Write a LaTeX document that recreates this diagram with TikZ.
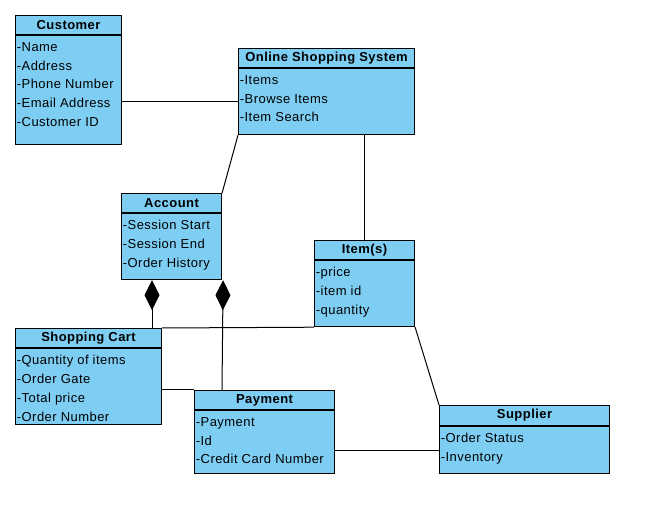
\documentclass[tikz,border=0pt]{standalone}
\usepackage{tikz, xcolor}
\usepackage{fontspec}
\setmainfont{Liberation Sans}[LetterSpace=3.5]
\usetikzlibrary{shapes,arrows,arrows.meta}
\definecolor{boxblue}{RGB}{126,206,244}

\begin{document}
\begin{tikzpicture}[x=1pt, y=-1pt, thick]
\tikzstyle{titler}=[rectangle, draw=black, fill=boxblue, line width=1.1pt, inner sep=0pt, anchor=north west, font=\fontsize{13}{15}\selectfont\bfseries]
\tikzstyle{bodyr}=[rectangle, draw=black, fill=boxblue, line width=1.1pt, inner sep=0pt, anchor=north west]
\tikzstyle{attrt}=[anchor=north west, align=left, inner sep=0pt, font=\fontsize{13}{18.75}\selectfont]
\tikzstyle{drawstyle}=[line width=1pt]
\tikzstyle{compstyle}=[line width=1pt, -{Diamond[length=30pt, width=15pt]}]

\useasboundingbox[fill=white] (0,0) rectangle (657,505);

\node[titler, minimum width=106, minimum height=19] (CustT) at (15,15) {Customer};
\node[bodyr, minimum width=106, minimum height=109] (Cust) at (CustT.south west) {};
\node[attrt] at ([shift={(1.5,7)}]Cust.north west) {-Name\\-Address\\-Phone Number\\-Email Address\\-Customer ID};

\node[titler, minimum width=176, minimum height=19] (OSST) at (238,48) {Online Shopping System};
\node[bodyr, minimum width=176, minimum height=66] (OSS) at (OSST.south west) {};
\node[attrt] at ([shift={(1.5,7)}]OSS.north west) {-Items\\-Browse Items\\-Item Search};

\node[titler, minimum width=100, minimum height=19] (AcctT) at (121,193) {Account};
\node[bodyr, minimum width=100, minimum height=66] (Acct) at (AcctT.south west) {};
\node[attrt] at ([shift={(1.5,7)}]Acct.north west) {-Session Start\\-Session End\\-Order History};

\node[titler, minimum width=100, minimum height=19] (ItemT) at (314,240) {Item(s)};
\node[bodyr, minimum width=100, minimum height=66] (Item) at (ItemT.south west) {};
\node[attrt] at ([shift={(1.5,7)}]Item.north west) {-price\\-item id\\-quantity};

\node[titler, minimum width=146, minimum height=19] (CartT) at (15,328) {Shopping Cart};
\node[bodyr, minimum width=146, minimum height=76] (Cart) at (CartT.south west) {};
\node[attrt] at ([shift={(1.5,7)}]Cart.north west) {-Quantity of items\\-Order Gate\\-Total price\\-Order Number};

\node[titler, minimum width=140, minimum height=19] (PayT) at (194,390) {Payment};
\node[bodyr, minimum width=140, minimum height=63] (Pay) at (PayT.south west) {};
\node[attrt] at ([shift={(1.5,7)}]Pay.north west) {-Payment\\-Id\\-Credit Card Number};

\node[titler, minimum width=170, minimum height=20] (SupT) at (439,405) {Supplier};
\node[bodyr, minimum width=170, minimum height=47] (Sup) at (SupT.south west) {};
\node[attrt] at ([shift={(1.5,7)}]Sup.north west) {-Order Status\\-Inventory};

\draw[drawstyle] (Cust.east |- OSS.west) -- (OSS.west);
\draw[drawstyle] (OSS.south west) -- (AcctT.north east);
\draw[drawstyle] (OSS.south -| ItemT.north) -- (ItemT.north);
\draw[compstyle] ([xshift=137pt]CartT.north west) -- ([xshift=31pt]Acct.south west);
\draw[compstyle] ([xshift=28pt]PayT.north west) -- ([xshift=1pt]Acct.south east);
\draw[drawstyle] (CartT.north east) -- (Item.south west);
\draw[drawstyle] (Cart.east |- PayT.north) -- (PayT.north west);
\draw[drawstyle] (Item.south east) -- (SupT.north west);
\draw[drawstyle] (Pay.east |- Sup.west) -- (Sup.west);
\end{tikzpicture}
\end{document}
